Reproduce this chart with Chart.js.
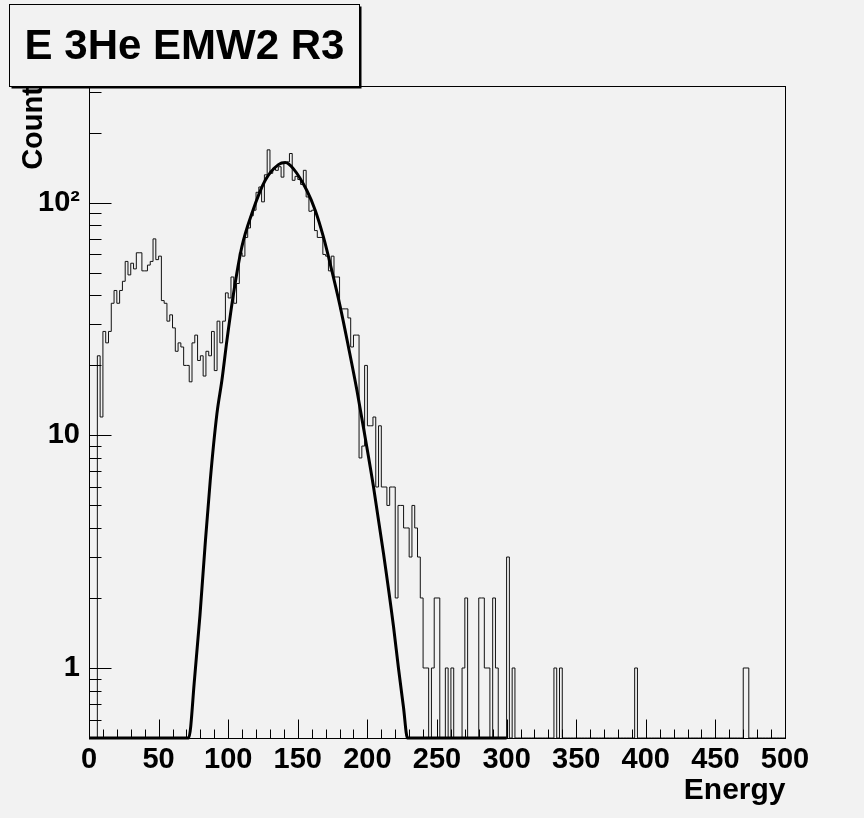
<!DOCTYPE html>
<html><head><meta charset="utf-8">
<script src="https://cdn.jsdelivr.net/npm/chart.js@4.4.0/dist/chart.umd.min.js"></script>
<style>html,body{margin:0;padding:0;background:#f2f2f2;}canvas{display:block;}</style>
</head><body>
<canvas id="c" width="864" height="818"></canvas>
<script>
// ---- data ----
const titleText = "E 3He EMW2 R3";
const xTitle = "Energy";
const yTitle = "Counts";
const binWidth = 2;
const xMin = 0, xMax = 500;
const yMin = 0.5, yMax = 318;
// histogram counts, bins of width 2 starting at 0
const counts = [
 0,0,0,22,12,28,25,28,37,42, 37,42,46,56,49,55,52,61,61,51,
 51,54,56,70,57,59,38,37,31,33, 29,23,25,24,20,20,17,25,27,21,
 22,18,23,22,28,19,31,25,31,41, 39,48,37,45,61,59,71,78,88,93,
 111,117,101,132,169,134,141,138,143,129, 148,150,163,125,130,126,120,138,106,92,
 93,76,71,71,60,59,51,59,48,48, 35,35,35,32,24,27,27,8,9,20,
 11,11,12,6,11,6,6,5,6,6, 2,5,5,4,4,3,5,4,3,2,
 1,1,0,1,2,2,0,0,1,0, 1,0,0,0,1,2,0,0,0,0,
 2,2,1,1,0,2,1,0,0,0, 3,0,1,0,0,0,0,0,0,0,
 0,0,0,0,0,0,0,1,0,1, 0,0,0,0,0,0,0,0,0,0,
 0,0,0,0,0,0,0,0,0,0, 0,0,0,0,0,0,1,0,0,0,
 0,0,0,0,0,0,0,0,0,0, 0,0,0,0,0,0,0,0,0,0,
 0,0,0,0,0,0,0,0,0,0, 0,0,0,0,0,1,1,0,0,0,
 0,0,0,0,0,0,0,0,0,0
];
// fit curve, points (0.5 = drawn on the frame bottom)
const fitX = [0,71.6,75.9,79.7,83.3,87.1,91.9,95.5,99.1,103.8,109.8,117,126.6,136.1,141,146.9,156.5,162.5,168.5,174.5,180.5,186.4,192.5,198.4,204.4,211.6,218.8,222.3,225.9,228.8,300];
const fitY = [0.5,0.5,0.91,1.68,3.31,6.4,12.4,17.3,25.7,40.7,64.7,90,125,146,149,140,113,93,71,51,35.7,24,15.6,9.8,6.0,3.1,1.5,1.0,0.68,0.5,0.5];
const xTickValues = [0,50,100,150,200,250,300,350,400,450,500];
const yTickValues = [1,10,100];
const yTickLabels = ["1","10","10\u00B2"];

// ---- build datasets ----
const histData = counts.map((c,i)=>({x: xMin + i*binWidth, y: Math.max(c, yMin)}));
histData.push({x: xMax, y: Math.max(counts[counts.length-1], yMin)});
const fitData = fitX.map((x,i)=>({x, y: fitY[i]}));

const FONT = "'Liberation Sans', Arial, Helvetica, sans-serif";
const BG = '#f2f2f2';

const rootStyle = {
  id: 'rootStyle',
  beforeDraw(chart) {
    const c = chart.ctx;
    c.save(); c.fillStyle = BG; c.fillRect(0,0,chart.width,chart.height); c.restore();
  },
  afterDraw(chart) {
    const c = chart.ctx, a = chart.chartArea, xs = chart.scales.x, ys = chart.scales.y;
    c.save();
    c.strokeStyle = '#000'; c.lineWidth = 1;
    const L = Math.round(a.left)+0.5, R = Math.round(a.right)+0.5, T = Math.round(a.top)+0.5, B = Math.round(a.bottom)+0.5;
    c.strokeRect(L, T, R-L, B-T);
    c.beginPath();
    for (let v = xMin; v <= xMax; v += 10) {
      const px = Math.round(xs.getPixelForValue(v)) + 0.5;
      const len = (v % 50 === 0) ? 19 : 9;
      c.moveTo(px, B); c.lineTo(px, B - len);
    }
    for (let d = -1; d <= 2; d++) {
      for (let m = 1; m <= 9; m++) {
        const v = m * Math.pow(10, d);
        if (v < yMin || v > yMax) continue;
        const py = Math.round(ys.getPixelForValue(v)) + 0.5;
        const len = (m === 1) ? 22 : 12;
        c.moveTo(L, py); c.lineTo(L + len, py);
      }
    }
    c.stroke();
    // axis titles
    c.fillStyle = '#000';
    c.font = "bold 30px " + FONT;
    c.textAlign = 'right'; c.textBaseline = 'alphabetic';
    c.fillText(xTitle, R, 799);
    c.save();
    c.font = "bold 29px " + FONT;
    c.translate(42, 70); c.rotate(-Math.PI/2);
    c.textAlign = 'right'; c.textBaseline = 'alphabetic';
    c.fillText(yTitle, 0, 0);
    c.restore();
    // title box with shadow
    const bx = 9.5, by = 4.5, bw = 350, bh = 82;
    c.fillStyle = '#000';
    c.fillRect(bx+2, by+2, bw, bh);
    c.fillStyle = BG;
    c.fillRect(bx, by, bw, bh);
    c.strokeStyle = '#000'; c.lineWidth = 1;
    c.strokeRect(bx, by, bw, bh);
    c.fillStyle = '#000';
    c.font = "bold 42px " + FONT;
    c.textAlign = 'center'; c.textBaseline = 'middle';
    c.fillText(titleText, bx + bw/2, by + bh/2 + 2);
    c.restore();
  }
};

new Chart(document.getElementById('c').getContext('2d'), {
  type: 'line',
  data: { datasets: [
    { label: 'fit', data: fitData, borderColor: '#000', borderWidth: 3, pointRadius: 0,
      cubicInterpolationMode: 'monotone', clip: false, order: 0, fill: false },
    { label: 'hist', data: histData, borderColor: '#111', borderWidth: 1, pointRadius: 0,
      stepped: 'before', order: 1, fill: false }
  ]},
  options: {
    responsive: false, animation: false, devicePixelRatio: 1,
    layout: { padding: { left: 0, top: 86, right: 79, bottom: 0 } },
    plugins: { legend: { display: false }, tooltip: { enabled: false }, title: { display: false } },
    scales: {
      x: {
        type: 'linear', min: xMin, max: xMax,
        grid: { display: false, drawTicks: false }, border: { display: false },
        afterBuildTicks: s => { s.ticks = xTickValues.map(v => ({ value: v })); },
        ticks: { font: { family: FONT, weight: 'bold', size: 29 }, color: '#000', padding: 5,
                 maxRotation: 0, autoSkip: false, callback: v => String(v) },
        afterFit: s => { s.height = 80; }
      },
      y: {
        type: 'logarithmic', min: yMin, max: yMax,
        grid: { display: false, drawTicks: false }, border: { display: false },
        afterBuildTicks: s => { s.ticks = yTickValues.map(v => ({ value: v })); },
        ticks: { font: { family: FONT, weight: 'bold', size: 29 }, color: '#000', padding: 9,
                 autoSkip: false, callback: (v, i) => yTickLabels[i] },
        afterFit: s => { s.width = 89; }
      }
    }
  },
  plugins: [rootStyle]
});
</script>
</body></html>
